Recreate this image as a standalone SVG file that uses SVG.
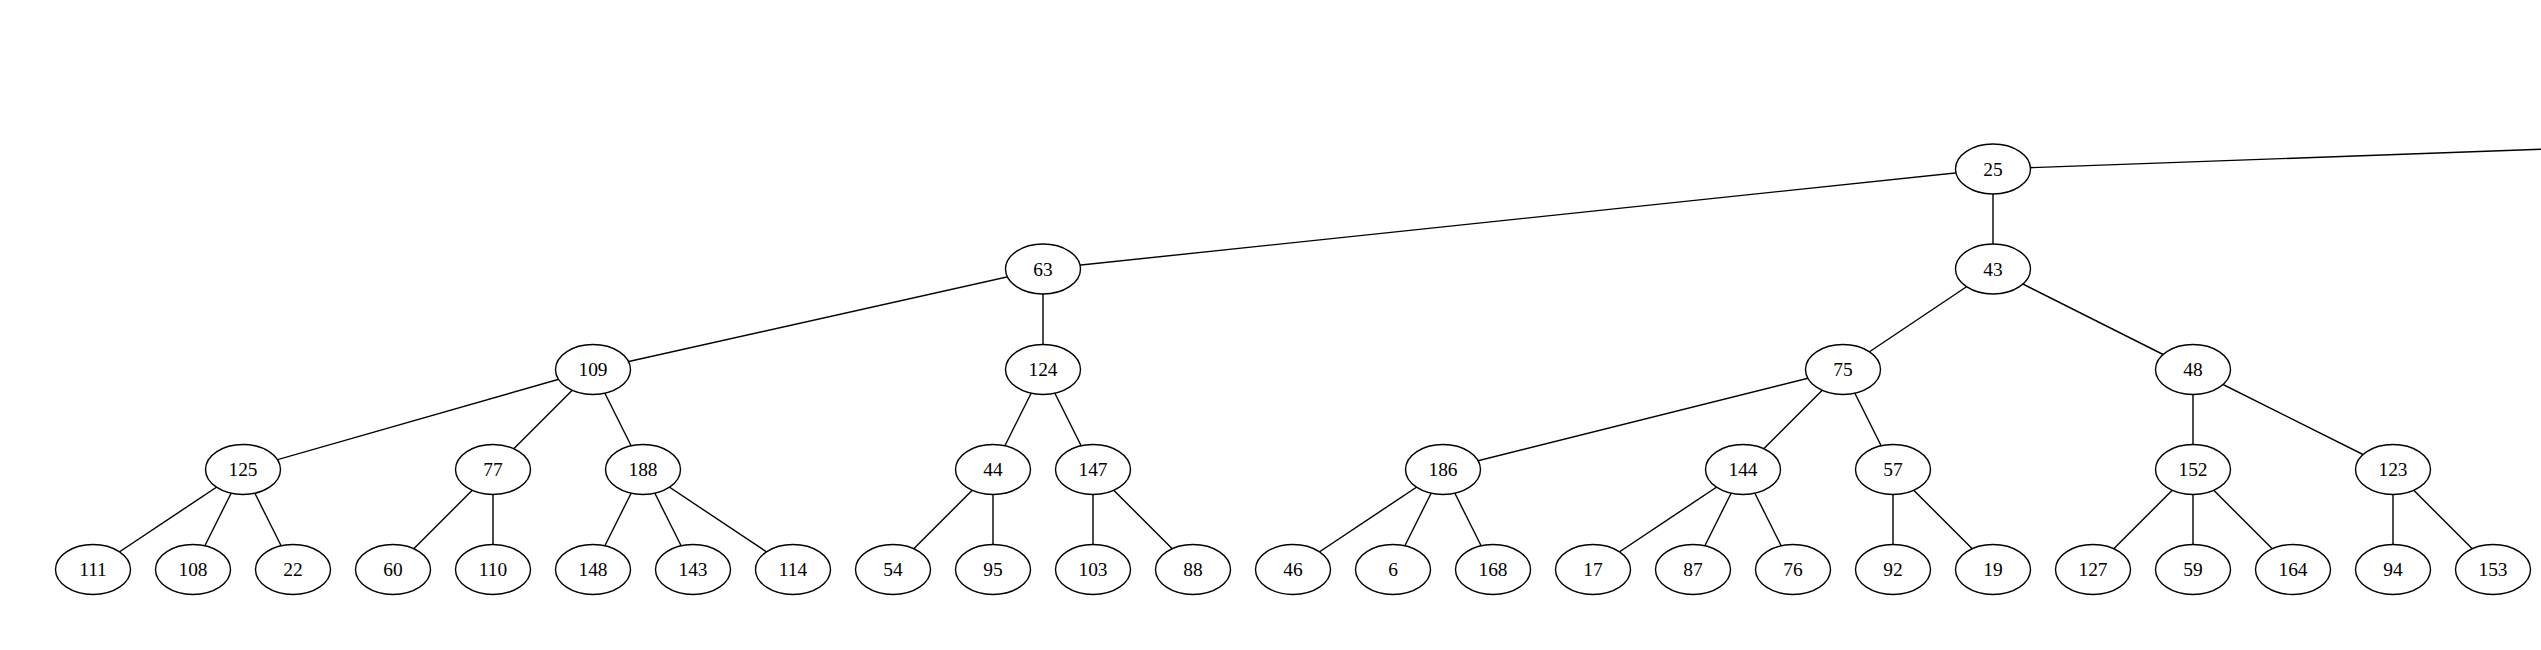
<svg xmlns="http://www.w3.org/2000/svg" width="2541" height="650" viewBox="0 0 2541 650">
<style>
.e{stroke:#000;stroke-width:1.4;fill:none}
.n ellipse{fill:#fff;stroke:#000;stroke-width:1.4}
.n text{font-family:"Liberation Serif","Times New Roman",serif;font-size:19.4px;text-anchor:middle;fill:#000}
</style>
<rect width="2541" height="650" fill="#fff"/>
<g id="connectors">
<line class="e" x1="1993" y1="169" x2="2600" y2="147.2"/>
<line class="e" x1="1993" y1="169" x2="1043" y2="269"/>
<line class="e" x1="1993" y1="169" x2="1993" y2="269"/>
<line class="e" x1="1043" y1="269" x2="593" y2="369.5"/>
<line class="e" x1="1043" y1="269" x2="1043" y2="369.5"/>
<line class="e" x1="1993" y1="269" x2="1843" y2="369.5"/>
<line class="e" x1="1993" y1="269" x2="2193" y2="369.5"/>
<line class="e" x1="593" y1="369.5" x2="243" y2="469.5"/>
<line class="e" x1="593" y1="369.5" x2="493" y2="469.5"/>
<line class="e" x1="593" y1="369.5" x2="643" y2="469.5"/>
<line class="e" x1="1043" y1="369.5" x2="993" y2="469.5"/>
<line class="e" x1="1043" y1="369.5" x2="1093" y2="469.5"/>
<line class="e" x1="1843" y1="369.5" x2="1443" y2="469.5"/>
<line class="e" x1="1843" y1="369.5" x2="1743" y2="469.5"/>
<line class="e" x1="1843" y1="369.5" x2="1893" y2="469.5"/>
<line class="e" x1="2193" y1="369.5" x2="2193" y2="469.5"/>
<line class="e" x1="2193" y1="369.5" x2="2393" y2="469.5"/>
<line class="e" x1="243" y1="469.5" x2="93" y2="569.5"/>
<line class="e" x1="243" y1="469.5" x2="193" y2="569.5"/>
<line class="e" x1="243" y1="469.5" x2="293" y2="569.5"/>
<line class="e" x1="493" y1="469.5" x2="393" y2="569.5"/>
<line class="e" x1="493" y1="469.5" x2="493" y2="569.5"/>
<line class="e" x1="643" y1="469.5" x2="593" y2="569.5"/>
<line class="e" x1="643" y1="469.5" x2="693" y2="569.5"/>
<line class="e" x1="643" y1="469.5" x2="793" y2="569.5"/>
<line class="e" x1="993" y1="469.5" x2="893" y2="569.5"/>
<line class="e" x1="993" y1="469.5" x2="993" y2="569.5"/>
<line class="e" x1="1093" y1="469.5" x2="1093" y2="569.5"/>
<line class="e" x1="1093" y1="469.5" x2="1193" y2="569.5"/>
<line class="e" x1="1443" y1="469.5" x2="1293" y2="569.5"/>
<line class="e" x1="1443" y1="469.5" x2="1393" y2="569.5"/>
<line class="e" x1="1443" y1="469.5" x2="1493" y2="569.5"/>
<line class="e" x1="1743" y1="469.5" x2="1593" y2="569.5"/>
<line class="e" x1="1743" y1="469.5" x2="1693" y2="569.5"/>
<line class="e" x1="1743" y1="469.5" x2="1793" y2="569.5"/>
<line class="e" x1="1893" y1="469.5" x2="1893" y2="569.5"/>
<line class="e" x1="1893" y1="469.5" x2="1993" y2="569.5"/>
<line class="e" x1="2193" y1="469.5" x2="2093" y2="569.5"/>
<line class="e" x1="2193" y1="469.5" x2="2193" y2="569.5"/>
<line class="e" x1="2193" y1="469.5" x2="2293" y2="569.5"/>
<line class="e" x1="2393" y1="469.5" x2="2393" y2="569.5"/>
<line class="e" x1="2393" y1="469.5" x2="2493" y2="569.5"/>
</g>
<g id="n25" class="n"><ellipse cx="1993" cy="169" rx="37.5" ry="25"/><text x="1993" y="175.5">25</text></g>
<g id="n63" class="n"><ellipse cx="1043" cy="269" rx="37.5" ry="25"/><text x="1043" y="275.5">63</text></g>
<g id="n43" class="n"><ellipse cx="1993" cy="269" rx="37.5" ry="25"/><text x="1993" y="275.5">43</text></g>
<g id="n109" class="n"><ellipse cx="593" cy="369.5" rx="37.5" ry="25"/><text x="593" y="376">109</text></g>
<g id="n124" class="n"><ellipse cx="1043" cy="369.5" rx="37.5" ry="25"/><text x="1043" y="376">124</text></g>
<g id="n75" class="n"><ellipse cx="1843" cy="369.5" rx="37.5" ry="25"/><text x="1843" y="376">75</text></g>
<g id="n48" class="n"><ellipse cx="2193" cy="369.5" rx="37.5" ry="25"/><text x="2193" y="376">48</text></g>
<g id="n125" class="n"><ellipse cx="243" cy="469.5" rx="37.5" ry="25"/><text x="243" y="476">125</text></g>
<g id="n77" class="n"><ellipse cx="493" cy="469.5" rx="37.5" ry="25"/><text x="493" y="476">77</text></g>
<g id="n188" class="n"><ellipse cx="643" cy="469.5" rx="37.5" ry="25"/><text x="643" y="476">188</text></g>
<g id="n44" class="n"><ellipse cx="993" cy="469.5" rx="37.5" ry="25"/><text x="993" y="476">44</text></g>
<g id="n147" class="n"><ellipse cx="1093" cy="469.5" rx="37.5" ry="25"/><text x="1093" y="476">147</text></g>
<g id="n186" class="n"><ellipse cx="1443" cy="469.5" rx="37.5" ry="25"/><text x="1443" y="476">186</text></g>
<g id="n144" class="n"><ellipse cx="1743" cy="469.5" rx="37.5" ry="25"/><text x="1743" y="476">144</text></g>
<g id="n57" class="n"><ellipse cx="1893" cy="469.5" rx="37.5" ry="25"/><text x="1893" y="476">57</text></g>
<g id="n152" class="n"><ellipse cx="2193" cy="469.5" rx="37.5" ry="25"/><text x="2193" y="476">152</text></g>
<g id="n123" class="n"><ellipse cx="2393" cy="469.5" rx="37.5" ry="25"/><text x="2393" y="476">123</text></g>
<g id="n111" class="n"><ellipse cx="93" cy="569.5" rx="37.5" ry="25"/><text x="93" y="576">111</text></g>
<g id="n108" class="n"><ellipse cx="193" cy="569.5" rx="37.5" ry="25"/><text x="193" y="576">108</text></g>
<g id="n22" class="n"><ellipse cx="293" cy="569.5" rx="37.5" ry="25"/><text x="293" y="576">22</text></g>
<g id="n60" class="n"><ellipse cx="393" cy="569.5" rx="37.5" ry="25"/><text x="393" y="576">60</text></g>
<g id="n110" class="n"><ellipse cx="493" cy="569.5" rx="37.5" ry="25"/><text x="493" y="576">110</text></g>
<g id="n148" class="n"><ellipse cx="593" cy="569.5" rx="37.5" ry="25"/><text x="593" y="576">148</text></g>
<g id="n143" class="n"><ellipse cx="693" cy="569.5" rx="37.5" ry="25"/><text x="693" y="576">143</text></g>
<g id="n114" class="n"><ellipse cx="793" cy="569.5" rx="37.5" ry="25"/><text x="793" y="576">114</text></g>
<g id="n54" class="n"><ellipse cx="893" cy="569.5" rx="37.5" ry="25"/><text x="893" y="576">54</text></g>
<g id="n95" class="n"><ellipse cx="993" cy="569.5" rx="37.5" ry="25"/><text x="993" y="576">95</text></g>
<g id="n103" class="n"><ellipse cx="1093" cy="569.5" rx="37.5" ry="25"/><text x="1093" y="576">103</text></g>
<g id="n88" class="n"><ellipse cx="1193" cy="569.5" rx="37.5" ry="25"/><text x="1193" y="576">88</text></g>
<g id="n46" class="n"><ellipse cx="1293" cy="569.5" rx="37.5" ry="25"/><text x="1293" y="576">46</text></g>
<g id="n6" class="n"><ellipse cx="1393" cy="569.5" rx="37.5" ry="25"/><text x="1393" y="576">6</text></g>
<g id="n168" class="n"><ellipse cx="1493" cy="569.5" rx="37.5" ry="25"/><text x="1493" y="576">168</text></g>
<g id="n17" class="n"><ellipse cx="1593" cy="569.5" rx="37.5" ry="25"/><text x="1593" y="576">17</text></g>
<g id="n87" class="n"><ellipse cx="1693" cy="569.5" rx="37.5" ry="25"/><text x="1693" y="576">87</text></g>
<g id="n76" class="n"><ellipse cx="1793" cy="569.5" rx="37.5" ry="25"/><text x="1793" y="576">76</text></g>
<g id="n92" class="n"><ellipse cx="1893" cy="569.5" rx="37.5" ry="25"/><text x="1893" y="576">92</text></g>
<g id="n19" class="n"><ellipse cx="1993" cy="569.5" rx="37.5" ry="25"/><text x="1993" y="576">19</text></g>
<g id="n127" class="n"><ellipse cx="2093" cy="569.5" rx="37.5" ry="25"/><text x="2093" y="576">127</text></g>
<g id="n59" class="n"><ellipse cx="2193" cy="569.5" rx="37.5" ry="25"/><text x="2193" y="576">59</text></g>
<g id="n164" class="n"><ellipse cx="2293" cy="569.5" rx="37.5" ry="25"/><text x="2293" y="576">164</text></g>
<g id="n94" class="n"><ellipse cx="2393" cy="569.5" rx="37.5" ry="25"/><text x="2393" y="576">94</text></g>
<g id="n153" class="n"><ellipse cx="2493" cy="569.5" rx="37.5" ry="25"/><text x="2493" y="576">153</text></g>
</svg>
